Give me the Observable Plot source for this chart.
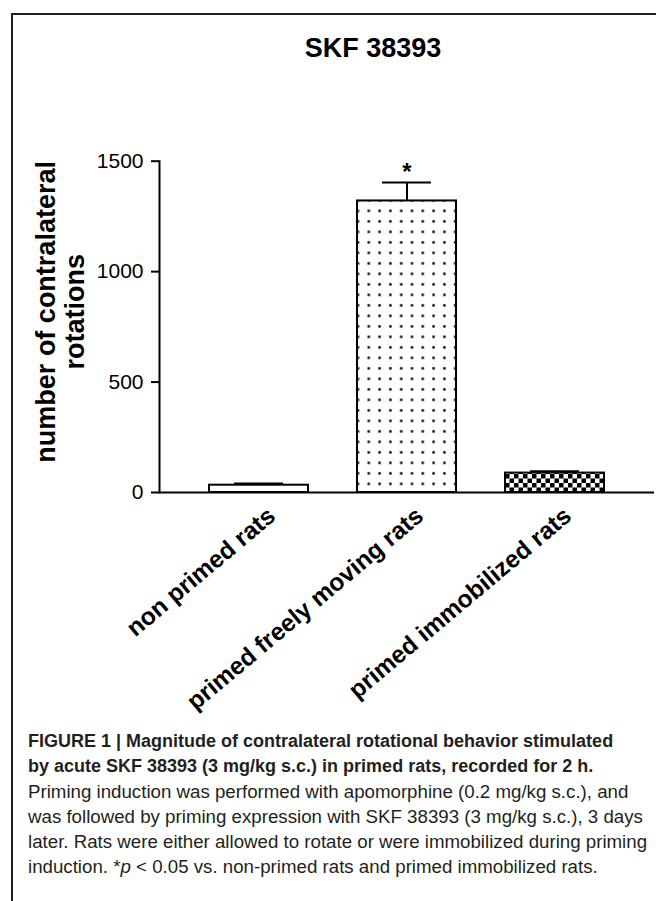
<!DOCTYPE html>
<html>
<head>
<meta charset="utf-8">
<script src="https://cdn.jsdelivr.net/npm/d3@7"></script>
<script src="https://cdn.jsdelivr.net/npm/@observablehq/plot@0.6"></script>
<style>
  html, body { margin: 0; padding: 0; background: #fff; overflow: hidden; }
  body { width: 656px; height: 901px; position: relative; font-family: "Liberation Sans", Arial, Helvetica, sans-serif; color: #000; }
  #frame { position: absolute; left: 11px; top: 13px; width: 800px; height: 1000px; border-left: 2px solid #231f20; border-top: 2px solid #231f20; }
  #title { position: absolute; left: 223px; width: 300px; top: 35px; text-align: center; font-weight: bold; font-size: 27px; line-height: 27px; }
  #chart { position: absolute; left: 0; top: 80px; width: 656px; height: 640px; }
  #caption { position: absolute; left: 28px; top: 729px; white-space: nowrap; color: #231f20; }
  #caption .b { font-weight: bold; font-size: 18px; line-height: 25px; height: 25px; }
  #caption .r { font-size: 18.7px; line-height: 25px; height: 25px; }
</style>
</head>
<body>
<div id="frame"></div>
<div id="title">SKF 38393</div>
<div id="chart"></div>
<div id="caption">
  <div class="b">FIGURE 1 | Magnitude of contralateral rotational behavior stimulated</div>
  <div class="b">by acute SKF 38393 (3 mg/kg s.c.) in primed rats, recorded for 2 h.</div>
  <div class="r">Priming induction was performed with apomorphine (0.2 mg/kg s.c.), and</div>
  <div class="r">was followed by priming expression with SKF 38393 (3 mg/kg s.c.), 3 days</div>
  <div class="r">later. Rats were either allowed to rotate or were immobilized during priming</div>
  <div class="r">induction. *<i>p</i> &lt; 0.05 vs. non-primed rats and primed immobilized rats.</div>
</div>
<script>
const categories = ["non primed rats", "primed freely moving rats", "primed immobilized rats"];
const means = [33, 1320, 88];
const sems = [8, 84, 8];
const significance = ["", "*", ""];
const yTicks = [0, 500, 1000, 1500];
const yLabel = "number of contralateral\nrotations";

const data = categories.map((c, i) => ({cat: c, mean: means[i], sem: sems[i], sig: significance[i]}));

const plot = Plot.plot({
  width: 656,
  height: 640,
  marginTop: 80.7,
  marginBottom: 228,
  marginLeft: 159,
  marginRight: 2,
  style: {fontFamily: "'Liberation Sans', Arial, sans-serif", color: "#000", background: "transparent", overflow: "visible"},
  x: {domain: categories, padding: 0.33, axis: null},
  y: {domain: [0, 1500]},
  color: {domain: categories, range: ["#ffffff", "url(#dots)", "url(#checker)"]},
  marks: [
    Plot.barY(data, {x: "cat", y: "mean", fill: "cat", stroke: "#000", strokeWidth: 2, inset: 0}),
    Plot.ruleX(data, {x: "cat", y1: "mean", y2: d => d.mean + d.sem, stroke: "#000", strokeWidth: 2}),
    Plot.tickY(data, {x: "cat", y: d => d.mean + d.sem, stroke: "#000", strokeWidth: 2, insetLeft: 25, insetRight: 25}),
    Plot.text(data.filter(d => d.sig), {x: "cat", y: d => d.mean + d.sem, text: "sig", lineAnchor: "bottom", dy: -2, fontSize: 24, fontWeight: "bold"}),
    Plot.ruleY([0], {stroke: "#000", strokeWidth: 2}),
    Plot.frame({anchor: "left", stroke: "#000", strokeWidth: 2}),
    Plot.axisY({ticks: yTicks, tickFormat: d => String(d), tickSize: 8, tickPadding: 8, fontSize: 21, strokeWidth: 2, label: null}),
    Plot.text([yLabel], {frameAnchor: "left", text: d => d, rotate: -90, fontSize: 27, fontWeight: "bold", lineHeight: 30 / 27, dx: -99.6, dy: -15, textAnchor: "middle", lineAnchor: "middle"}),
    Plot.text(categories, {x: d => d, text: d => d, frameAnchor: "bottom", rotate: -40, textAnchor: "end", lineAnchor: "middle", fontSize: 24.5, fontWeight: "bold", dx: 13, dy: 20})
  ]
});

const svg = d3.select(plot);
const xs = plot.scale("x"), ys = plot.scale("y");
const bx = xs.apply(categories[1]);
const by = ys.apply(means[1]);
const defs = svg.insert("defs", ":first-child");
const dw = 10.8, dh = 10.5;
const dots = defs.append("pattern").attr("id", "dots").attr("patternUnits", "userSpaceOnUse")
  .attr("width", dw).attr("height", dh).attr("x", bx + 1 - dw / 2).attr("y", by + 10.4 - dh / 2);
dots.append("rect").attr("width", dw).attr("height", dh).attr("fill", "#fff");
dots.append("rect").attr("x", dw / 2 - 1.2).attr("y", dh / 2 - 1.2).attr("width", 2.4).attr("height", 2.4).attr("fill", "#000");
const cx = xs.apply(categories[2]);
const cs = 4.5;
const checker = defs.append("pattern").attr("id", "checker").attr("patternUnits", "userSpaceOnUse")
  .attr("width", cs * 2).attr("height", cs * 2).attr("x", cx).attr("y", ys.apply(0));
checker.append("rect").attr("width", cs * 2).attr("height", cs * 2).attr("fill", "#fff");
checker.append("rect").attr("width", cs).attr("height", cs).attr("fill", "#000");
checker.append("rect").attr("x", cs).attr("y", cs).attr("width", cs).attr("height", cs).attr("fill", "#000");

document.getElementById("chart").appendChild(plot);
</script>
</body>
</html>
